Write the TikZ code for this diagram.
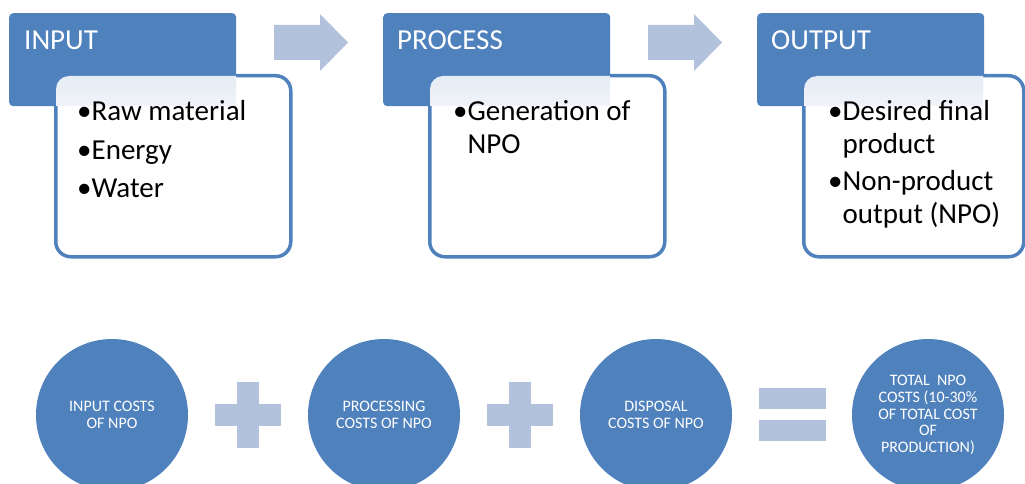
\documentclass[tikz,border=0pt]{standalone}
\usepackage{fontspec}
\setmainfont{Carlito}
\definecolor{dblue}{HTML}{4F81BD}
\definecolor{lblue}{HTML}{B2C1DC}
\definecolor{haze}{HTML}{E6ECF5}
\tikzset{
  hdrbox/.style={fill=dblue,rounded corners=4pt,inner sep=0pt,anchor=north west,
    minimum width=227pt,minimum height=93pt},
  hdrtext/.style={anchor=base west,inner sep=0pt,text=white,font=\fontsize{29}{33}\selectfont},
  listbox/.style={draw=dblue,line width=3.5pt,fill=white,rounded corners=15pt,
    inner sep=0pt,anchor=north west,minimum height=181pt},
  listtext/.style={anchor=base west,inner sep=0pt,text=black,font=\fontsize{29}{33}\selectfont},
  costcirc/.style={circle,fill=dblue,minimum size=152pt,inner sep=0pt,text=white,
    align=center,font=\fontsize{16}{16.7}\selectfont},
  blockarrow/.style={fill=lblue},
  opsign/.style={fill=lblue}
}
\newcommand{\bitem}[1]{\textbullet\begin{tabular}[t]{@{}l@{}}#1\end{tabular}}
\begin{document}
\begin{tikzpicture}[x=1pt,y=-1pt]
\useasboundingbox (0,0) rectangle (1025,484);
\clip (0,0) rectangle (1025,484);

% ---------- INPUT ----------
\node[hdrbox] (inhdr) at (9,13) {};
\node[hdrtext] (inhdrtxt) at (24,50) {INPUT};
\node[listbox,minimum width=235pt] (inlist) at (54,74) {};
\begin{scope}
  \clip[rounded corners=13pt] (56,76) rectangle (286,253);
  \shade[top color=haze,bottom color=haze!60!white] (56,76) rectangle (236,106);
\end{scope}
\node[listtext] (in1) at (77,121) {\textbullet Raw material};
\node[listtext] (in2) at (77,159) {\textbullet Energy};
\node[listtext] (in3) at (77,197) {\textbullet Water};

% ---------- PROCESS ----------
\node[hdrbox] (prhdr) at (383,13) {};
\node[hdrtext] (prhdrtxt) at (397,50) {PROCESS};
\node[listbox,minimum width=235pt] (prlist) at (428,74) {};
\begin{scope}
  \clip[rounded corners=13pt] (430,76) rectangle (660,253);
  \shade[top color=haze,bottom color=haze!60!white] (430,76) rectangle (610,106);
\end{scope}
\node[listtext] (pr1) at (453,121) {\bitem{Generation of\\NPO}};

% ---------- OUTPUT ----------
\node[hdrbox] (outhdr) at (757,13) {};
\node[hdrtext] (outhdrtxt) at (771,50) {OUTPUT};
\node[listbox,minimum width=220pt] (outlist) at (802,74) {};
\begin{scope}
  \clip[rounded corners=13pt] (804,76) rectangle (1020,253);
  \shade[top color=haze,bottom color=haze!60!white] (804,76) rectangle (983,106);
\end{scope}
\node[listtext] (out1) at (828,121) {\bitem{Desired final\\product}};
\node[listtext] (out2) at (828,190) {\bitem{Non-product\\output (NPO)}};

% ---------- block arrows ----------
\fill[blockarrow] (274,25) -- (320,25) -- (320,14) -- (348,42.5) -- (320,71) -- (320,60) -- (274,60) -- cycle;
\fill[blockarrow] (648,25) -- (694,25) -- (694,14) -- (722,42.5) -- (694,71) -- (694,60) -- (648,60) -- cycle;

% ---------- cost circles ----------
\node[costcirc] (c1) at (112,415) {INPUT COSTS\\OF NPO};
\node[costcirc] (c2) at (384,415) {PROCESSING\\COSTS OF NPO};
\node[costcirc] (c3) at (656,415) {DISPOSAL\\COSTS OF NPO};
\node[costcirc] (c4) at (928,415) {TOTAL\ \ NPO\\COSTS (10-30\%\\OF TOTAL COST\\OF\\PRODUCTION)};

% plus signs
\fill[opsign] (215,404) rectangle (281,426);
\fill[opsign] (237,382) rectangle (259,448);
\fill[opsign] (487,404) rectangle (553,426);
\fill[opsign] (509,382) rectangle (531,448);
% equals sign
\fill[opsign] (759,388) rectangle (826,409);
\fill[opsign] (759,420) rectangle (826,441);
\end{tikzpicture}
\end{document}
